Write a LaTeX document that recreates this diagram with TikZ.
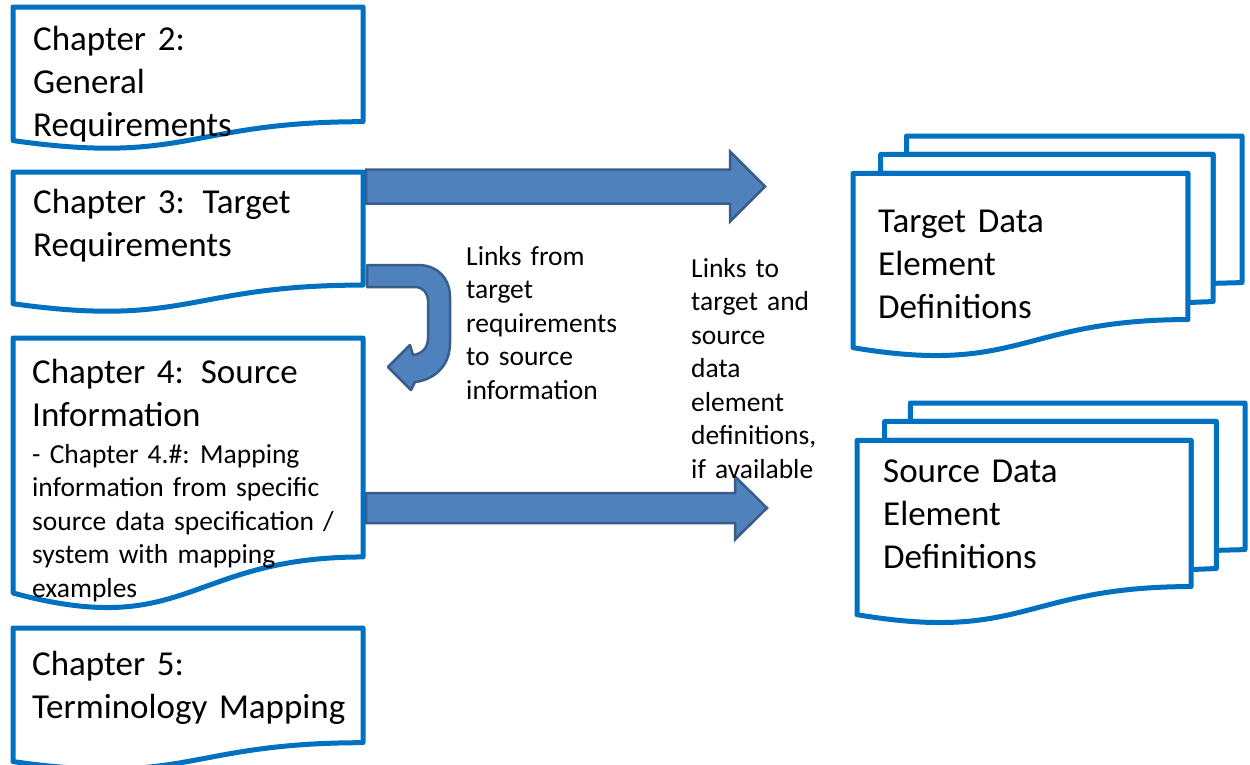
\documentclass[tikz,border=0pt]{standalone}
\usepackage{fontspec}
\setmainfont{Carlito}
\usetikzlibrary{calc}
\frenchspacing
\definecolor{docblue}{HTML}{0070C0}
\definecolor{arrfill}{HTML}{4F81BD}
\definecolor{arrline}{HTML}{385D8A}

\tikzset{
  docline/.style={draw=docblue, line width=5pt, fill=white, line join=round},
  blockarrow/.style={draw=arrline, line width=2.5pt, fill=arrfill, line join=miter},
  bigtxt/.style={anchor=base west, inner sep=0pt, text width=400pt, align=left,
    font=\fontsize{35}{43}\selectfont},
  smalltxt/.style={anchor=base west, inner sep=0pt, text width=400pt, align=left,
    font=\fontsize{27.5}{33.5}\selectfont},
}

% single page with a wavy lower edge: x, y (top left), width, height
\newcommand\docshape[4]{%
  \draw[docline] (#1,#2) -- ({#1+#3},#2) -- ({#1+#3},{#2+0.802*#4})
    .. controls ({#1+0.5*#3},{#2+0.802*#4}) and ({#1+0.5*#3},{#2+1.1075*#4})
    .. (#1,{#2+0.934*#4}) -- cycle;}

% stack of three pages: x, y (top left), width, height
\newcommand\multidoc[4]{%
  \draw[docline] ({#1+0.1376*#3},{#2+0.0840*#4}) -- ({#1+0.1376*#3},#2)
    -- ({#1+#3},#2) -- ({#1+#3},{#2+0.6663*#4})
    -- ({#1+0.9259*#3},{#2+0.6698*#4}) -- ({#1+0.9259*#3},{#2+0.0840*#4}) -- cycle;
  \draw[docline] ({#1+0.0709*#3},{#2+0.1701*#4}) -- ({#1+0.0709*#3},{#2+0.0840*#4})
    -- ({#1+0.9259*#3},{#2+0.0840*#4}) -- ({#1+0.9259*#3},{#2+0.7524*#4})
    -- ({#1+0.8609*#3},{#2+0.7570*#4}) -- ({#1+0.8609*#3},{#2+0.1701*#4}) -- cycle;
  \draw[docline] (#1,{#2+0.9621*#4})
    .. controls ({#1+0.4305*#3},{#2+1.0899*#4}) and ({#1+0.4305*#3},{#2+0.8344*#4})
    .. ({#1+0.8609*#3},{#2+0.8344*#4}) -- ({#1+0.8609*#3},{#2+0.1701*#4})
    -- (#1,{#2+0.1701*#4}) -- cycle;}

% straight block arrow from a named start to a named tip:
% shaft half-height, head half-height, head length
\newcommand\blockarrow[5]{%
  \draw[blockarrow] ($(#1)+(0,-#3)$) -- ($(#2)+(-#5,-#3)$) -- ($(#2)+(-#5,-#4)$)
    -- (#2) -- ($(#2)+(-#5,#4)$) -- ($(#2)+(-#5,#3)$) -- ($(#1)+(0,#3)$) -- cycle;}

\begin{document}
\begin{tikzpicture}[x=1pt, y=-1pt]
  \useasboundingbox (0,0) rectangle (1250,764);

  % block arrows, drawn beneath the pages
  \coordinate (topstart) at (366,186.5);
  \coordinate (toptip) at (765,186.5);
  \coordinate (botstart) at (366,508);
  \coordinate (bottip) at (767,508);
  \blockarrow{topstart}{toptip}{17}{35}{35}
  \blockarrow{botstart}{bottip}{15}{31.5}{32}

  % U-turn arrow from chapter 3 down to chapter 4
  \draw[blockarrow, line join=round]
    (367,265) -- (418,265)
    .. controls (437,265) and (450,278) .. (450,297)
    -- (450,343)
    .. controls (450,368) and (432,380) .. (415,382)
    -- (411,390) -- (388,367) -- (410,345) -- (413,355)
    .. controls (422,354) and (428,348) .. (428,338)
    -- (428,301)
    .. controls (428,293) and (423,287) .. (415,287)
    -- (367,287) -- cycle;

  % chapter pages
  \docshape{13}{7}{350}{143}
  \docshape{13}{172}{350}{141}
  \docshape{13}{338}{350}{273}
  \docshape{13}{628}{350}{143}

  % definition stacks
  \multidoc{853}{136}{389}{220}
  \multidoc{857}{403}{388}{220}

  % texts
  \node[bigtxt] (ch2) at (33,50) {Chapter 2:\\General\\Requirements};
  \node[bigtxt] (ch3) at (33,213) {Chapter 3:\ \hspace{0.17em}Target\\Requirements};
  \node[bigtxt] (ch4) at (32,383) {Chapter 4:\ \hspace{0.15em}Source\\Information};
  \node[smalltxt] (ch4sub) at (32,463) {- Chapter 4.\#:\ \hspace{0.05em}Mapping\\information from specific\\source data specification /\\system with mapping\\examples};
  \node[bigtxt] (ch5) at (32,675) {Chapter 5:\\Terminology Mapping};
  \node[bigtxt] (tgt) at (878,232) {Target Data\\Element\\Definitions};
  \node[bigtxt] (src) at (883,482) {Source Data\\Element\\Definitions};
  \node[smalltxt] (linkreq) at (466,265) {Links from\\target\\requirements\\to source\\information};
  \node[smalltxt] (linkdef) at (691,277) {Links to\\target and\\source\\data\\element\\definitions,\\if available};
\end{tikzpicture}
\end{document}
